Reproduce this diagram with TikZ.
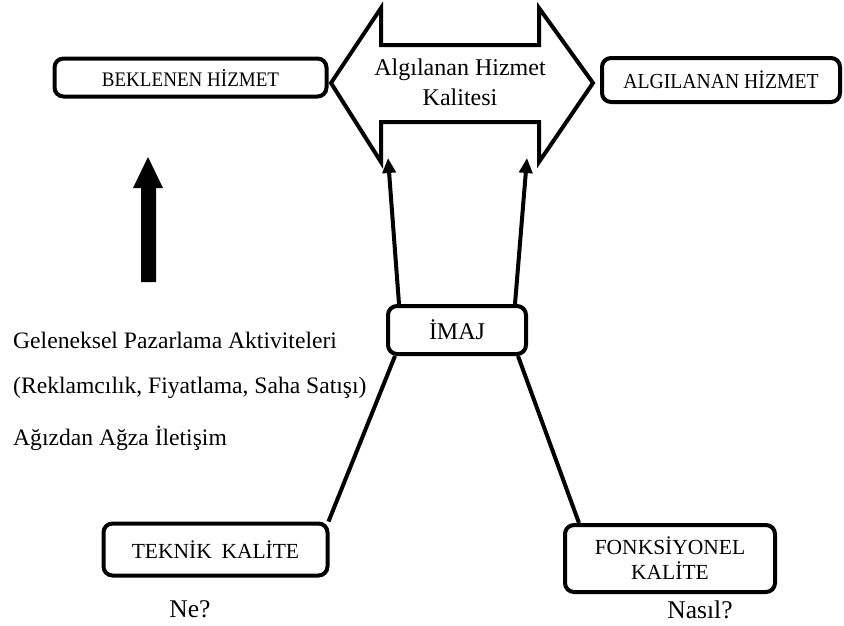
\documentclass[tikz,border=0pt]{standalone}
\usepackage{fontspec}
\setmainfont{Liberation Serif}
\newfontfamily\narrowserif[FakeStretch=0.92]{Liberation Serif}
\usetikzlibrary{arrows.meta,calc}

\tikzset{
  box/.style={draw, line width=4pt, rounded corners=9pt, inner sep=0pt,
    align=center, font=\fontsize{21.5}{26}\selectfont},
  link/.style={line width=4pt},
  uparrow/.style={line width=4pt, -{Triangle[length=15pt,width=13pt]}},
  plain/.style={font=\fontsize{23.6}{28}\selectfont, inner sep=0pt},
  ask/.style={font=\fontsize{25.5}{30}\selectfont, inner sep=0pt}
}

\begin{document}
\begin{tikzpicture}[x=1pt,y=-1pt]
\useasboundingbox (0,0) rectangle (844,625);

% boxes
\node[box, minimum width=272pt, minimum height=38pt] (bek) at (190.5,77.5)
  {\narrowserif\fontsize{20.7}{26}\selectfont BEKLENEN H\.IZMET};
\node[box, minimum width=238pt, minimum height=44pt] (alg) at (721,80)
  {\narrowserif\fontsize{21.4}{26}\selectfont ALGILANAN H\.IZMET};
\node[box, minimum width=138pt, minimum height=48pt] (imaj) at (457,330)
  {\fontsize{24}{28}\selectfont \.IMAJ};
\node[box, minimum width=224pt, minimum height=52pt] (tek) at (215.5,549.5)
  {TEKN\.IK\hspace{0.45em}KAL\.ITE};
\node[box, minimum width=210pt, minimum height=67pt] (fonk) at (670,558.5)
  {FONKS\.IYONEL\\[-1pt]KAL\.ITE};

% double-headed block arrow for perceived service quality
\draw[line width=4pt, line join=miter, fill=white]
  (331,83) -- (381,8) -- (381,45) -- (539,45) -- (539,8) -- (593,83)
  -- (539,162) -- (539,122) -- (381,122) -- (381,162) -- cycle;
\node[font=\fontsize{24}{30}\selectfont, align=center, inner sep=0pt] (aq) at (460,82)
  {Alg\i lanan Hizmet\\Kalitesi};
\coordinate (aqL) at (388,158);
\coordinate (aqR) at (527,158);

% solid block arrow on the left
\fill (141,282) -- (141,188) -- (133,188) -- (148,157) -- (163,188)
  -- (156,188) -- (156,282) -- cycle;

% image feeds the perceived quality
\draw[uparrow] ($(imaj.north west)+(13,0)$) -- (aqL);
\draw[uparrow] ($(imaj.north east)+(-13,0)$) -- (aqR);

% technical and functional quality feed the image
\draw[link] ($(imaj.south west)+(9,0)$) -- ($(tek.north east)+(-1,0)$);
\draw[link] ($(imaj.south east)+(-10,0)$) -- ($(fonk.north west)+(16,0)$);

% traditional marketing text
\node[plain, anchor=west] (t1) at (13,340) {Geleneksel Pazarlama Aktiviteleri};
\node[plain, anchor=west] (t2) at (13,388) {(Reklamc\i l\i k, Fiyatlama, Saha Sat\i\c{s}\i)};
\node[plain, anchor=west] (t3) at (13,438) {A\u{g}\i zdan A\u{g}za \.Ileti\c{s}im};

% questions
\node[ask] (ne) at (190,609) {Ne?};
\node[ask] (nasil) at (700,610) {Nas\i l?};
\end{tikzpicture}
\end{document}
